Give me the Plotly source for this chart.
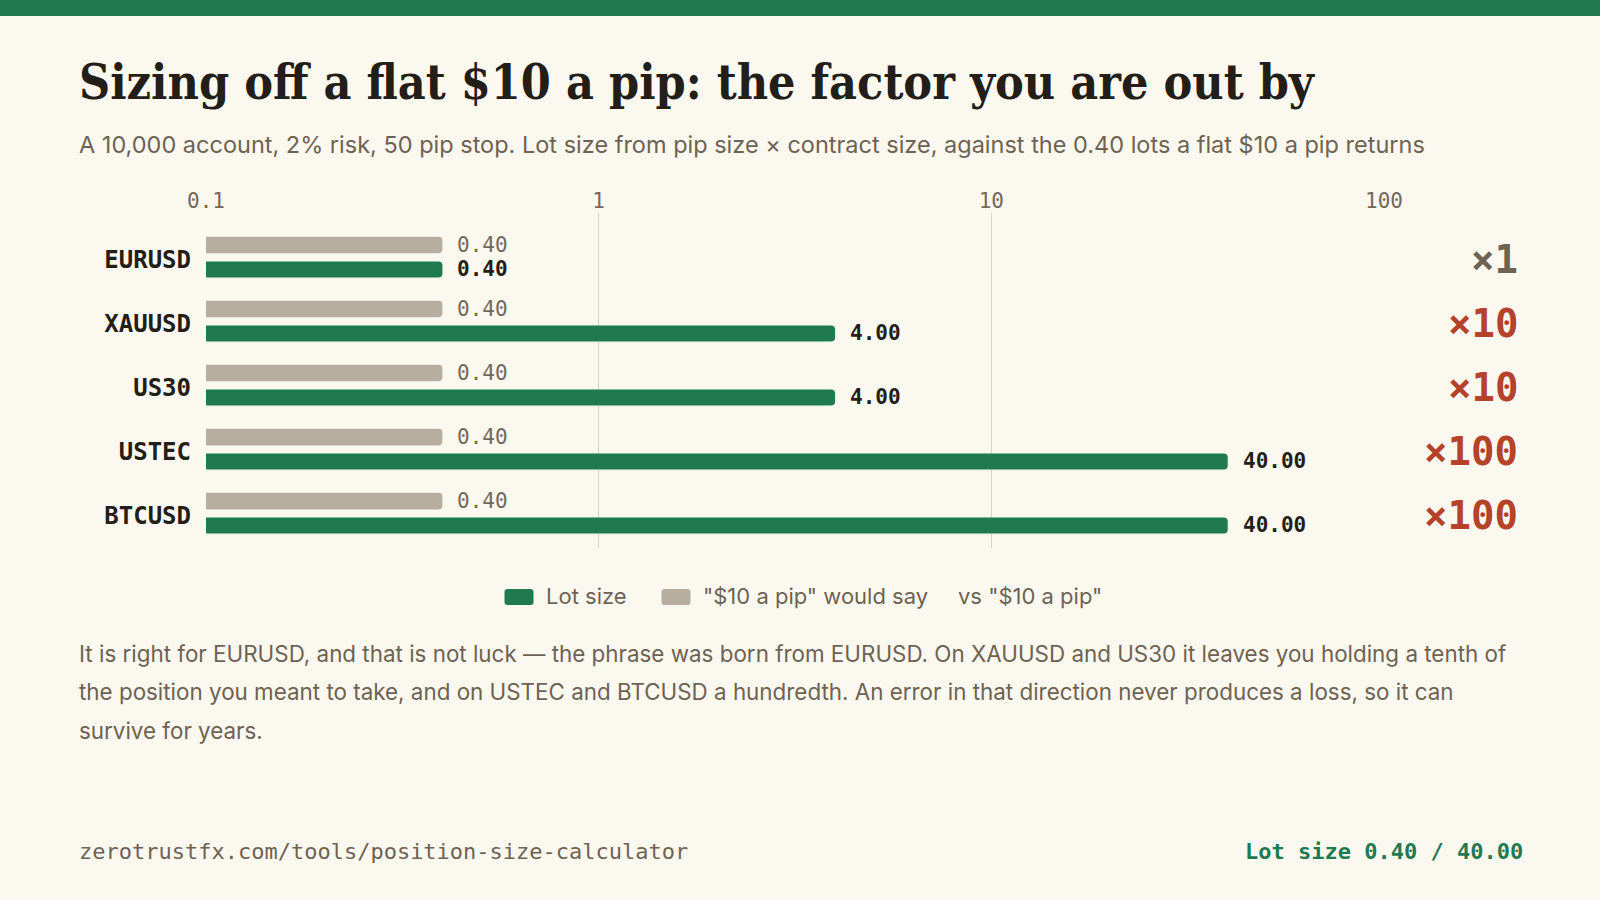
import math
import plotly.graph_objects as go

# === Дані ===
symbols = ["EURUSD", "XAUUSD", "US30", "USTEC", "BTCUSD"]
lot_sizes = [0.40, 4.00, 4.00, 40.00, 40.00]
flat_lots = [0.40, 0.40, 0.40, 0.40, 0.40]
factors = [1, 10, 10, 100, 100]
x_ticks = [0.1, 1, 10, 100]
x_tick_text = ["0.1", "1", "10", "100"]

title = "Sizing off a flat $10 a pip: the factor you are out by"
subtitle = ("A 10,000 account, 2% risk, 50 pip stop. Lot size from pip size × contract size, "
            "against the 0.40 lots a flat $10 a pip returns")
body_lines = [
    "It is right for EURUSD, and that is not luck — the phrase was born from EURUSD. On XAUUSD and US30 it leaves you holding a tenth of",
    "the position you meant to take, and on USTEC and BTCUSD a hundredth. An error in that direction never produces a loss, so it can",
    "survive for years.",
]
footer_left = "zerotrustfx.com/tools/position-size-calculator"
footer_right = "Lot size 0.40 / 40.00"
legend_extra = 'vs "$10 a pip"'

# === Кольори та шрифти ===
BG = "#fbf8f0"
GREEN = "#1f7a50"
GREY = "#b8ae9f"
DARK = "#231e18"
MUTED = "#6e6252"
LABEL = "#75685a"
RED = "#b5432a"
GRID = "#dbd3c1"
MONO = "DejaVu Sans Mono"
SANS = "Inter"
SERIF = "DejaVu Serif Condensed, DejaVu Serif"

# === Геометрія сторінки (px) ===
W, H = 1600, 900
L, R, T, B = 206, 216, 213, 352
PW, PH = W - L - R, H - T - B


def px(x):
    return (x - L) / PW


def py(y):
    return (H - B - y) / PH


def swatch(cx, cy, color, w=29, h=16, r=3):
    a, b = w / 2, h / 2
    path = (f"M {-a + r},{-b} H {a - r} Q {a},{-b} {a},{-b + r} V {b - r} Q {a},{b} {a - r},{b} "
            f"H {-a + r} Q {-a},{b} {-a},{b - r} V {-b + r} Q {-a},{-b} {-a + r},{-b} Z")
    return dict(type="path", xref="paper", yref="paper",
                xsizemode="pixel", ysizemode="pixel",
                xanchor=px(cx), yanchor=py(cy), path=path,
                fillcolor=color, line=dict(width=0))


fig = go.Figure()

fig.add_trace(go.Bar(
    y=symbols, x=lot_sizes, orientation="h", name="Lot size",
    marker=dict(color=GREEN, cornerradius=4, line=dict(width=0)),
    offset=0.033, width=0.25, hoverinfo="skip", showlegend=False,
))
fig.add_trace(go.Bar(
    y=symbols, x=flat_lots, orientation="h", name='"$10 a pip" would say',
    marker=dict(color=GREY, cornerradius=4, line=dict(width=0)),
    offset=-0.353, width=0.26, hoverinfo="skip", showlegend=False,
))

annotations = []

# підписи значень (лог-вісь: x у log10)
for sym, flat, lot in zip(symbols, flat_lots, lot_sizes):
    annotations.append(dict(
        x=math.log10(flat), y=sym, xref="x", yref="y", text=f"{flat:.2f}", showarrow=False,
        xanchor="left", yanchor="middle", xshift=13, yshift=14,
        font=dict(family=MONO, size=21, color=LABEL),
    ))
    annotations.append(dict(
        x=math.log10(lot), y=sym, xref="x", yref="y", text=f"<b>{lot:.2f}</b>", showarrow=False,
        xanchor="left", yanchor="middle", xshift=13, yshift=-10,
        font=dict(family=MONO, size=21, color=DARK),
    ))

# множники праворуч
for sym, f in zip(symbols, factors):
    annotations.append(dict(
        x=px(1520), y=sym, xref="paper", yref="y", text=f"<b>×{f}</b>", showarrow=False,
        xanchor="right", yanchor="middle",
        font=dict(family=MONO, size=39, color=MUTED if f == 1 else RED),
    ))

# заголовок, підзаголовок, текст, футер
annotations.append(dict(
    x=px(77), y=py(82), xref="paper", yref="paper", text=f"<b>{title}</b>",
    showarrow=False, xanchor="left", yanchor="middle",
    font=dict(family=SERIF, size=48, color=DARK),
))
annotations.append(dict(
    x=px(77), y=py(145), xref="paper", yref="paper", text=subtitle,
    showarrow=False, xanchor="left", yanchor="middle",
    font=dict(family=SANS, size=23.5, color=MUTED),
))
for i, line in enumerate(body_lines):
    annotations.append(dict(
        x=px(77), y=py(653 + i * 38.5), xref="paper", yref="paper", text=line,
        showarrow=False, xanchor="left", yanchor="middle",
        font=dict(family=SANS, size=22.4, color=MUTED),
    ))

# легенда
legend_items = [(fig.data[0].name, GREEN, 519, 544), (fig.data[1].name, GREY, 676, 701)]
shapes = [dict(
    type="rect", xref="paper", yref="paper",
    x0=px(0), x1=px(W), y0=py(0), y1=py(16),
    fillcolor=GREEN, line=dict(width=0), layer="above",
)]
for name, color, cx, tx in legend_items:
    shapes.append(swatch(cx, 597, color))
    annotations.append(dict(
        x=px(tx), y=py(596), xref="paper", yref="paper", text=name,
        showarrow=False, xanchor="left", yanchor="middle",
        font=dict(family=SANS, size=22, color=MUTED),
    ))
annotations.append(dict(
    x=px(956), y=py(596), xref="paper", yref="paper", text=legend_extra,
    showarrow=False, xanchor="left", yanchor="middle",
    font=dict(family=SANS, size=22, color=MUTED),
))

annotations.append(dict(
    x=px(77), y=py(851), xref="paper", yref="paper", text=footer_left,
    showarrow=False, xanchor="left", yanchor="middle",
    font=dict(family=MONO, size=22, color=MUTED),
))
annotations.append(dict(
    x=px(1525), y=py(851), xref="paper", yref="paper", text=f"<b>{footer_right}</b>",
    showarrow=False, xanchor="right", yanchor="middle",
    font=dict(family=MONO, size=22, color=GREEN),
))

fig.update_layout(
    width=W, height=H,
    paper_bgcolor=BG, plot_bgcolor=BG,
    margin=dict(l=L, r=R, t=T, b=B, pad=0),
    barmode="overlay",
    showlegend=False,
    xaxis=dict(
        type="log", range=[-1, 2], side="top",
        tickvals=x_ticks, ticktext=x_tick_text,
        tickfont=dict(family=MONO, size=21, color=LABEL),
        showgrid=True, gridcolor=GRID, gridwidth=1,
        zeroline=False, showline=False, ticks="",
    ),
    yaxis=dict(
        type="category", categoryorder="array", categoryarray=symbols,
        range=[4.51, -0.723],
        tickfont=dict(family=MONO, size=24, color=DARK, weight="bold"),
        showgrid=False, zeroline=False, showline=False, ticks="",
        ticklabelstandoff=14,
    ),
    shapes=shapes,
    annotations=annotations,
)

fig.write_html("out.html", config={"displayModeBar": False},
               post_script="document.body.style.margin='0';")
